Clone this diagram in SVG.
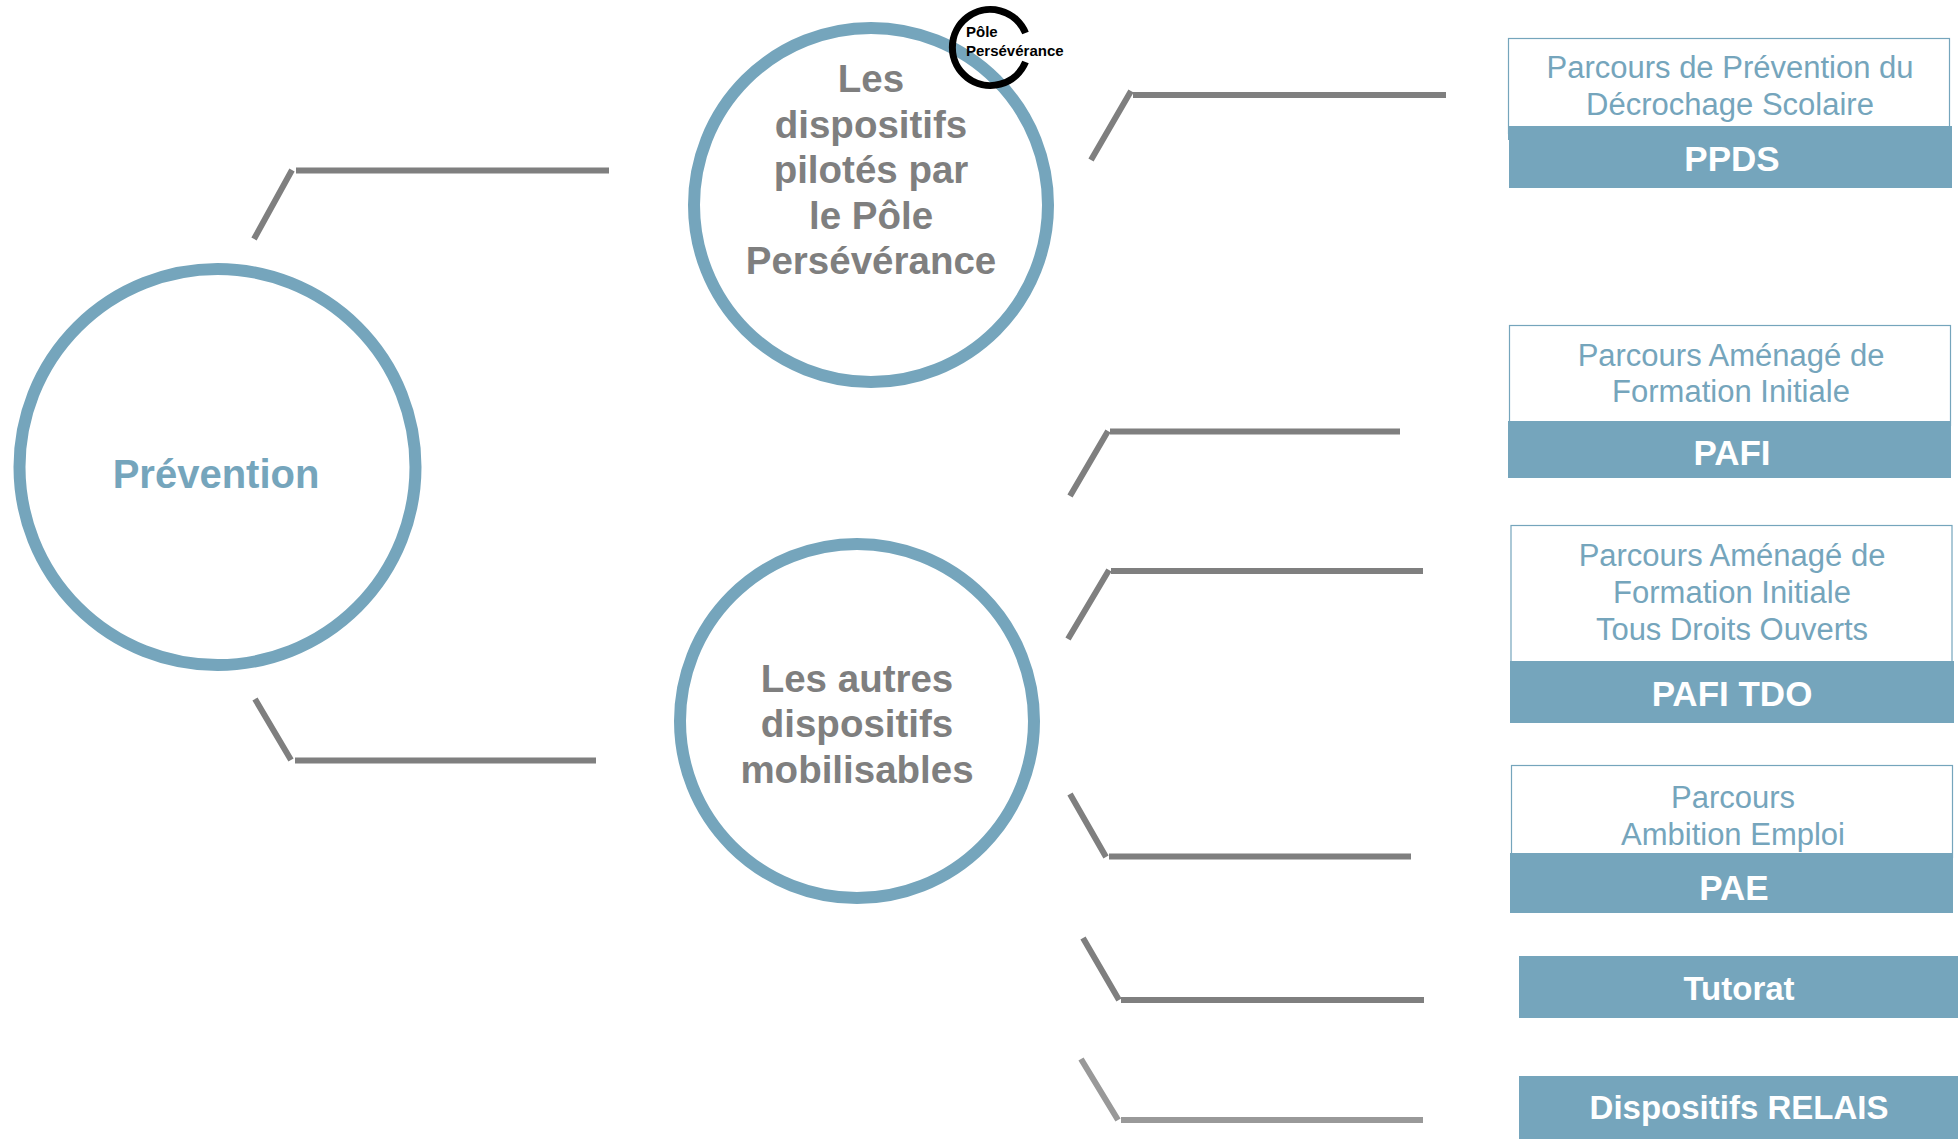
<svg xmlns="http://www.w3.org/2000/svg" width="1958" height="1139" viewBox="0 0 1958 1139">
<style>
text{font-family:"Liberation Sans",Arial,sans-serif;text-anchor:middle}
.ring{fill:#fff;stroke:#75A5BC;stroke-width:12}
.conn{stroke:#7F7F7F;stroke-width:6;fill:none}
.bar{fill:#75A5BC}
.out{fill:#fff;stroke:#75A5BC;stroke-width:1.2}
.head{font-weight:700;font-size:38.5px;fill:#7F7F7F}
.sub{font-size:31px;fill:#75A5BC}
.lab{font-weight:700;font-size:35px;fill:#fff}
</style>
<rect width="1958" height="1139" fill="#fff"/>
<g id="connectors">
<path class="conn" d="M254 239L292 170M296 170.500H609"/>
<path class="conn" d="M255 699L291 760M295 760.500H596"/>
<path class="conn" d="M1091 160L1131 91M1133 95H1446"/>
<path class="conn" d="M1070 496L1108 431M1110 431.500H1400"/>
<path class="conn" d="M1068 639L1109 570M1111 571H1423"/>
<path class="conn" d="M1070 794L1106 857M1109 856.500H1411"/>
<path class="conn" d="M1083 938L1119 1000M1121 1000H1424"/>
<path class="conn" style="stroke:#999" d="M1081 1059L1118 1120M1121 1120H1423"/>
</g>
<g id="prevention"><circle class="ring" cx="217.500" cy="467" r="198"/><text x="216" y="488" style="font-weight:700;font-size:40px;fill:#75A5BC">Prévention</text></g>
<g id="pilotes"><circle class="ring" cx="871" cy="205" r="177"/>
<text class="head" x="871" y="92">Les</text><text class="head" x="871" y="138">dispositifs</text><text class="head" x="871" y="183">pilotés par</text><text class="head" x="871" y="229">le Pôle</text><text class="head" x="871" y="274">Persévérance</text></g>
<g id="pole"><path d="M1025.500 33A38 38 0 1 0 1025.500 62" fill="none" stroke="#000" stroke-width="7"/>
<text x="966" y="37" style="text-anchor:start;font-weight:700;font-size:15px;fill:#000">Pôle</text><text x="966" y="56" style="text-anchor:start;font-weight:700;font-size:15px;fill:#000">Persévérance</text></g>
<g id="autres"><circle class="ring" cx="857" cy="721" r="177"/>
<text class="head" x="857" y="692">Les autres</text><text class="head" x="857" y="737">dispositifs</text><text class="head" x="857" y="783">mobilisables</text></g>
<g id="ppds"><rect class="out" x="1508.500" y="38.500" width="441" height="95"/><rect class="bar" x="1508" y="126" width="444" height="14"/><rect class="bar" x="1509" y="126" width="443" height="62"/>
<text class="sub" x="1730" y="78">Parcours de Prévention du</text><text class="sub" x="1730" y="115">Décrochage Scolaire</text><text class="lab" x="1732" y="171">PPDS</text></g>
<g id="pafi"><rect class="out" x="1509.500" y="325.500" width="441" height="100"/><rect class="bar" x="1508" y="421" width="443" height="57"/>
<text class="sub" x="1731" y="366">Parcours Aménagé de</text><text class="sub" x="1731" y="402">Formation Initiale</text><text class="lab" x="1732" y="465">PAFI</text></g>
<g id="pafi-tdo"><rect class="out" x="1511" y="525.500" width="441" height="140"/><rect class="bar" x="1510" y="661" width="444" height="62"/>
<text class="sub" x="1732" y="566">Parcours Aménagé de</text><text class="sub" x="1732" y="603">Formation Initiale</text><text class="sub" x="1732" y="640">Tous Droits Ouverts</text><text class="lab" x="1732" y="706">PAFI TDO</text></g>
<g id="pae"><rect class="out" x="1511.500" y="765.500" width="441" height="92"/><rect class="bar" x="1510" y="853" width="443" height="60"/>
<text class="sub" x="1733" y="808">Parcours</text><text class="sub" x="1733" y="845">Ambition Emploi</text><text class="lab" x="1734" y="900">PAE</text></g>
<g id="tutorat"><rect class="bar" x="1519" y="956" width="439" height="62"/><text class="lab" x="1739" y="1000" style="font-size:33px">Tutorat</text></g>
<g id="relais"><rect class="bar" x="1519" y="1076" width="439" height="63"/><text class="lab" x="1739" y="1119" style="font-size:33px">Dispositifs RELAIS</text></g>
</svg>
